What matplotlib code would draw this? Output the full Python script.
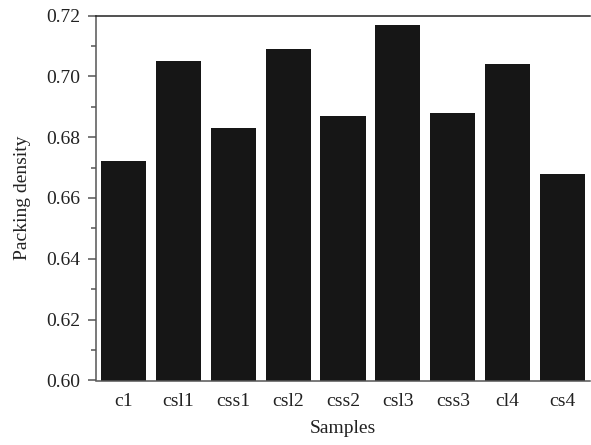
import matplotlib
matplotlib.use("Agg")
import matplotlib.pyplot as plt
from matplotlib.ticker import MultipleLocator

samples = ["c1", "csl1", "css1", "csl2", "css2", "csl3", "css3", "cl4", "cs4"]
density = [0.672, 0.705, 0.683, 0.709, 0.687, 0.717, 0.688, 0.704, 0.668]

plt.rcParams['font.family'] = ['Liberation Serif', 'DejaVu Serif']

fig = plt.figure(figsize=(5.91, 4.45), dpi=100)
ax = fig.add_axes([96/591, 1 - 380.5/445, (590-96)/591, (380.5-15.5)/445])

ax.bar(range(len(samples)), density, width=0.82, color="#161616")
ax.set_xlim(-0.5, len(samples) - 0.5)
ax.set_ylim(0.60, 0.72)
ax.set_xticks(range(len(samples)))
ax.set_xticklabels(samples)
ax.yaxis.set_major_locator(MultipleLocator(0.02))
ax.yaxis.set_minor_locator(MultipleLocator(0.01))
ax.yaxis.set_major_formatter(plt.FormatStrFormatter('%.2f'))

ax.spines['right'].set_visible(False)
for s in ['left', 'bottom']:
    ax.spines[s].set_color('#555555')
    ax.spines[s].set_linewidth(1.1)
ax.spines['top'].set_color('#222222')
ax.spines['top'].set_linewidth(1.1)

fs = 14
ax.tick_params(axis='x', length=0, labelsize=fs, pad=9, colors='#222222')
ax.tick_params(axis='y', which='major', length=6, width=1.1, color='#555555', labelsize=fs, labelcolor='#222222', pad=5)
ax.tick_params(axis='y', which='minor', length=3.5, width=1.1, color='#555555')

ax.set_xlabel("Samples", fontsize=fs, color='#222222', labelpad=7)
ax.set_ylabel("Packing density", fontsize=fs, color='#222222', labelpad=11)

fig.savefig("out.png", dpi=100)
